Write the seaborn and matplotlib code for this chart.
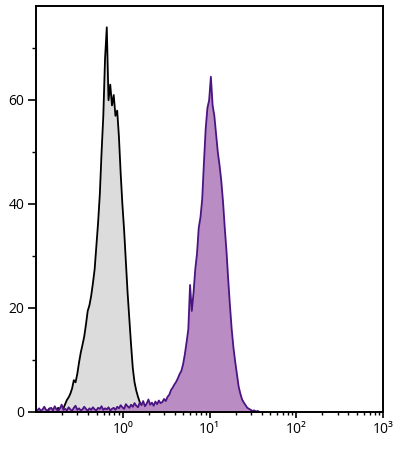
import numpy as np
import matplotlib
matplotlib.use("Agg")
import matplotlib.pyplot as plt
import seaborn as sns
from matplotlib.ticker import FixedLocator, LogLocator, NullFormatter

sns.set_style("white")
plt.rcParams["font.family"] = ["Open Sans", "DejaVu Sans"]
plt.rcParams["text.color"] = "black"
plt.rcParams["xtick.color"] = "black"
plt.rcParams["ytick.color"] = "black"

# histogram channels, log10 units, width 0.02 decade
bin_width = 0.02

# unstained control (grey, black outline), first bin starts at log10 = -1.0
grey_start = -1.0
grey_counts = [
    0.2, 0.5, 0.1, 0.3, 0.6, 0.2, 0.4, 0.8, 0.3, 0.5, 0.7, 0.4, 0.9, 0.6, 1.1, 0.8,
    1.6, 2.4, 2.9, 3.6, 4.6, 6.2, 5.8, 7.4, 9.6, 11.5, 13.0, 14.6, 16.9, 19.5,
    20.6, 22.4, 24.8, 27.5, 32.0, 36.5, 42.0, 50.0, 57.0, 68.0, 74.0, 60.0,
    63.0, 59.0, 61.0, 57.0, 58.0, 53.0, 46.0, 40.0, 35.0, 29.0, 23.0, 18.0,
    13.0, 8.5, 5.8, 4.2, 3.0, 2.0, 1.5, 1.0, 0.7, 0.4, 0.2,
]

# stained sample (purple), first bin starts at log10 = -1.0
purple_start = -1.0
purple_counts = [
    0.4, 0.8, 0.3, 0.6, 1.1, 0.5, 0.2, 0.7, 0.9, 0.4,
    1.2, 0.6, 0.3, 0.8, 1.5, 0.5, 0.7, 0.4, 1.0, 0.6,
    0.3, 0.9, 1.3, 0.5, 0.8, 0.4, 0.6, 1.1, 0.7, 0.3,
    0.8, 0.5, 1.0, 0.6, 0.4, 0.9, 0.7, 1.2, 0.5, 0.8,
    0.6, 1.0, 0.4, 0.7, 0.9, 0.5, 1.1, 0.8, 1.4, 1.0,
    0.7, 1.6, 1.2, 0.9, 1.5, 1.1, 1.8, 1.3, 1.0, 1.9,
    1.4, 2.2, 1.2, 1.7, 2.5, 1.5, 1.9, 1.3, 2.1,
    1.6, 2.3, 1.8, 2.0, 2.6, 2.2, 3.0, 3.4, 4.3, 4.8,
    5.4, 5.9, 6.6, 7.4, 8.0, 9.3, 11.2, 13.5, 16.0, 24.5,
    19.5, 23.0, 27.5, 30.5, 35.5, 37.5, 41.0, 48.0, 54.5, 58.5,
    60.0, 64.5, 59.0, 57.0, 53.5, 50.0, 47.5, 44.5, 40.5, 35.5,
    31.0, 25.5, 20.5, 16.0, 12.5, 9.8, 7.4, 5.0, 3.6, 2.5,
    1.9, 1.4, 0.9, 0.7, 0.5, 0.3, 0.4, 0.2, 0.3, 0.1, 0.1,
]

xtick_values = [1, 10, 100, 1000]
xtick_labels = ["10⁰", "10¹", "10²", "10³"]
ytick_values = [0, 20, 40, 60]


def channel_centers(start, n):
    return 10 ** (start + bin_width * (np.arange(n) + 0.5))


fig = plt.figure(figsize=(4.0, 4.51), dpi=100)
ax = fig.add_axes([0.09, 0.0865, 0.8675, 0.9002])

for start, counts, face, edge in [
    (grey_start, grey_counts, "#dcdcdc", "black"),
    (purple_start, purple_counts, "#b98cc4", "#4b1483"),
]:
    n = len(counts)
    sns.histplot(
        x=channel_centers(start, n),
        weights=counts,
        bins=n,
        binrange=(start, start + n * bin_width),
        log_scale=True,
        element="poly",
        fill=True,
        color=face,
        edgecolor=edge,
        linewidth=1.3,
        alpha=1,
        ax=ax,
    )

ax.set_xlim(0.1, 1000)
ax.set_ylim(0, 78)
ax.set_xlabel("")
ax.set_ylabel("")

ax.xaxis.set_major_locator(FixedLocator(xtick_values))
ax.set_xticklabels(xtick_labels)
ax.xaxis.set_minor_locator(LogLocator(base=10, subs=np.arange(2, 10)))
ax.xaxis.set_minor_formatter(NullFormatter())
ax.set_yticks(ytick_values)
ax.set_yticks([10, 30, 50, 70], minor=True)

ax.tick_params(axis="x", which="major", direction="out", length=4, width=1.2,
               labelsize=10, pad=3, bottom=True)
ax.tick_params(axis="x", which="minor", direction="out", length=2.3, width=1.0,
               bottom=True)
ax.tick_params(axis="y", which="major", direction="out", length=5.5, width=1.2,
               labelsize=10, pad=3, left=True)
ax.tick_params(axis="y", which="minor", direction="out", length=2.7, width=1.0,
               left=True)

for side in ["left", "right", "top", "bottom"]:
    ax.spines[side].set_visible(True)
    ax.spines[side].set_color("black")
    ax.spines[side].set_linewidth(1.4)

fig.savefig("out.png", dpi=100)
